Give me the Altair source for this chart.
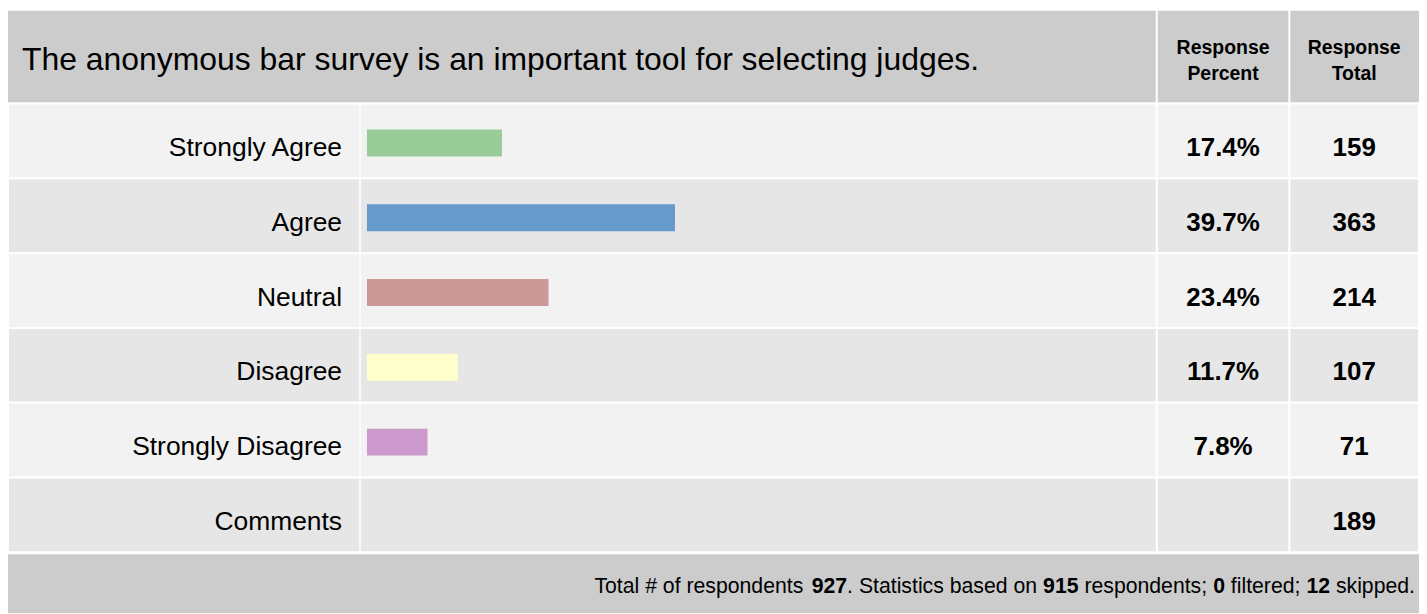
import altair as alt
import pandas as pd

# ---------------- data ----------------
categories = ["Strongly Agree", "Agree", "Neutral", "Disagree", "Strongly Disagree", "Comments"]
percents = [17.4, 39.7, 23.4, 11.7, 7.8, None]
totals = [159, 363, 214, 107, 71, 189]
answer_colors = ["#99cc99", "#6699cc", "#cc9999", "#ffffcc", "#cc99cc"]
title_text = "The anonymous bar survey is an important tool for selecting judges."
col_pct_header = ["Response", "Percent"]
col_tot_header = ["Response", "Total"]
footer_parts = [
    ("Total # of respondents ", False), ("927", True), (". Statistics based on ", False),
    ("915", True), (" respondents; ", False), ("0", True), (" filtered; ", False),
    ("12", True), (" skipped.", False),
]

df = pd.DataFrame({"row": categories, "pct": percents, "total": totals,
                   "idx": list(range(len(categories)))})

# ---------------- layout ----------------
W, H = 1415, 606
FONT = "Liberation Sans, Arial, sans-serif"
HEAD_Y0, HEAD_Y1 = 2, 94
ROWS_Y0, ROWS_Y1 = 95, 545
FOOT_Y0, FOOT_Y1 = 547, H
DIV_LABEL, DIV_PCT, DIV_TOT = 353, 1152, 1285
BAR0, BAR100 = 360, 1138
GRAY = "#cccccc"

x_scale = alt.Scale(domain=[0, 100], range=[BAR0, BAR100])
y_enc = alt.Y("row:N", axis=None,
              scale=alt.Scale(domain=categories, range=[ROWS_Y0, ROWS_Y1],
                              paddingInner=0, paddingOuter=0))
one = alt.Data(values=[{"k": 1}])

header_bg = alt.Chart(one).mark_rect(color=GRAY).encode(
    x=alt.value(0), x2=alt.value(W), y=alt.value(HEAD_Y0), y2=alt.value(HEAD_Y1))
footer_bg = alt.Chart(one).mark_rect(color=GRAY).encode(
    x=alt.value(0), x2=alt.value(W), y=alt.value(FOOT_Y0), y2=alt.value(FOOT_Y1))

row_bg = alt.Chart(df).mark_rect(stroke="white", strokeWidth=2).encode(
    x=alt.value(0), x2=alt.value(W), y=y_enc,
    color=alt.condition("datum.idx % 2 == 0", alt.value("#f2f2f2"), alt.value("#e6e6e6")))

def vrule(x, y0, y1, w=2):
    return alt.Chart(one).mark_rule(color="white", strokeWidth=w).encode(
        x=alt.value(x), y=alt.value(y0), y2=alt.value(y1))

dividers = [vrule(DIV_LABEL, ROWS_Y0, ROWS_Y1, 1.5),
            vrule(DIV_PCT, HEAD_Y0, ROWS_Y1), vrule(DIV_TOT, HEAD_Y0, ROWS_Y1)]

bars = alt.Chart(df).transform_filter("isValid(datum.pct)").mark_bar(height=27, yOffset=2).encode(
    x=alt.X("pct:Q", scale=x_scale, axis=None, stack=None),
    y=y_enc,
    color=alt.Color("row:N", scale=alt.Scale(domain=categories[:5], range=answer_colors), legend=None))

labels = alt.Chart(df).mark_text(align="right", baseline="alphabetic", font=FONT,
                                 fontSize=26.5, dy=15, color="black").encode(
    x=alt.value(335), y=y_enc, text="row:N")

pct_text = alt.Chart(df).transform_filter("isValid(datum.pct)").transform_calculate(
    label="format(datum.pct, '.1f') + '%'").mark_text(
    align="center", baseline="alphabetic", font=FONT, fontWeight="bold",
    fontSize=26, dy=15, color="black").encode(
    x=alt.value((DIV_PCT + DIV_TOT) / 2), y=y_enc, text="label:N")

tot_text = alt.Chart(df).mark_text(
    align="center", baseline="alphabetic", font=FONT, fontWeight="bold",
    fontSize=26, dy=15, color="black").encode(
    x=alt.value((DIV_TOT + W) / 2), y=y_enc, text="total:Q")

title = alt.Chart(one).mark_text(align="left", baseline="alphabetic", font=FONT,
                                 fontSize=32, color="black").encode(
    x=alt.value(14), y=alt.value(61), text=alt.value(title_text))

def col_head(lines, xc):
    return alt.Chart(one).mark_text(align="center", baseline="alphabetic", font=FONT,
                                    fontWeight="bold", fontSize=19.5, lineHeight=26,
                                    color="black").encode(
        x=alt.value(xc), y=alt.value(45), text=alt.value(lines))

heads = [col_head(col_pct_header, (DIV_PCT + DIV_TOT) / 2),
         col_head(col_tot_header, (DIV_TOT + W) / 2)]

# footer: right-aligned run of normal/bold segments (Arial-metric advance widths)
ADV = {' ': 278, '#': 556, '.': 278, ';': 278, 'T': 611, 'S': 667, 'a': 556, 'b': 556,
       'c': 500, 'd': 556, 'e': 556, 'f': 278, 'i': 222, 'k': 500, 'l': 222, 'n': 556,
       'o': 556, 'p': 556, 'r': 333, 's': 500, 't': 278}
FOOT_SIZE = 21.3
def seg_width(s):
    return sum(ADV.get(c, 556) for c in s) / 1000 * FOOT_SIZE

xs = []
cur = W - 4
for txt, b in reversed(footer_parts):
    cur -= seg_width(txt)
    lead = len(txt) - len(txt.lstrip(" "))
    xs.append(cur + seg_width(" " * lead))
xs = list(reversed(xs))
foot_df = pd.DataFrame({"txt": [p[0].strip() for p in footer_parts],
                        "bold": [p[1] for p in footer_parts], "x": xs})

def foot_layer(bold):
    return alt.Chart(foot_df).transform_filter(
        "datum.bold" if bold else "!datum.bold").mark_text(
        align="left", baseline="alphabetic", font=FONT, fontSize=FOOT_SIZE,
        fontWeight="bold" if bold else "normal", color="black").encode(
        x=alt.X("x:Q", scale=None), y=alt.value(586), text="txt:N")

chart = alt.layer(
    header_bg, row_bg, footer_bg, *dividers, bars, labels, pct_text, tot_text,
    title, *heads, foot_layer(False), foot_layer(True)
).properties(
    width=W, height=H, padding=0, autosize=alt.AutoSizeParams(type="none"),
    background="white"
).configure_view(stroke=None)

chart.save("out.html", embed_options={"renderer": "svg", "actions": False})
